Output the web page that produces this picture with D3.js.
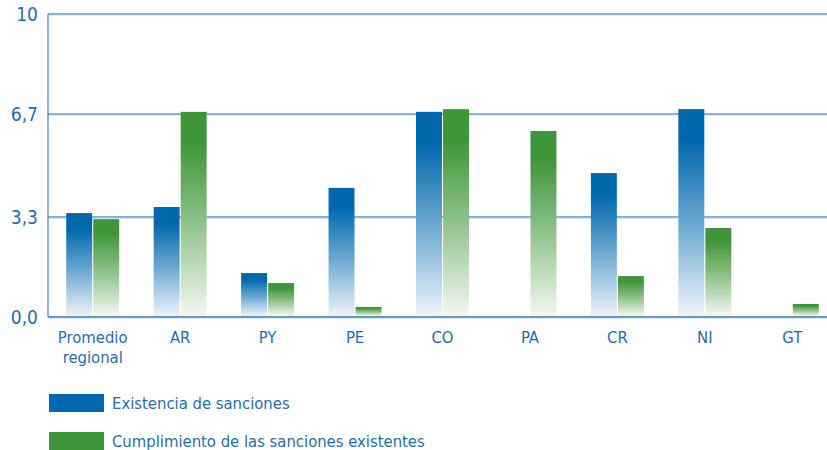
<!DOCTYPE html>
<html><head><meta charset="utf-8">
<script src="https://cdn.jsdelivr.net/npm/d3@7"></script>
<style>
body{margin:0;background:#fff;}
text{font-family:"Liberation Sans Narrow","DejaVu Sans Condensed","Open Sans",sans-serif;fill:#1f6eab;}
</style></head><body>
<svg id="c" width="827" height="450"></svg>
<script>
const categories = ["Promedio regional","AR","PY","PE","CO","PA","CR","NI","GT"];
const existencia = [3.43, 3.63, 1.45, 4.26, 6.77, null, 4.75, 6.86, null];
const cumplimiento = [3.23, 6.77, 1.12, 0.33, 6.86, 6.14, 1.35, 2.94, 0.43];
const tickValues = [0, 3.3, 6.7, 10];
const tickLabels = ["0,0","3,3","6,7","10"];
const seriesNames = ["Existencia de sanciones","Cumplimiento de las sanciones existentes"];
const colors = ["#0068ad","#3f963a"];
const fades = ["#eef3fb","#f3f8f1"];

(function(){
const svg = d3.select("#c");
const pLeft = 48, pRight = 827, pTop = 14, pBottom = 317;
const x = d3.scaleBand().domain(categories).range([49, 836]);
const y = d3.scaleLinear().domain([0,10]).range([pBottom, pTop]);
const sub = d3.scaleBand().domain([0,1]).range([0, 53]).paddingInner(0.04);

const defs = svg.append("defs");
colors.forEach((c,i)=>{
  const g = defs.append("linearGradient").attr("id","g"+i).attr("x1",0).attr("y1",0).attr("x2",0).attr("y2",1);
  g.append("stop").attr("offset","0.15").attr("stop-color",c);
  g.append("stop").attr("offset","0.55").attr("stop-color",d3.interpolateRgb(c,fades[i])(0.45));
  g.append("stop").attr("offset","1").attr("stop-color",fades[i]);
});

const gridG = svg.append("g");
tickValues.forEach(v=>{
  gridG.append("line").attr("x1",pLeft).attr("x2",pRight).attr("y1",y(v)).attr("y2",y(v))
    .attr("stroke","#3f84bb").attr("stroke-width", v===0?2:1.4).attr("stroke-opacity",0.85);
  gridG.append("line").attr("x1",pLeft).attr("x2",pRight).attr("y1",y(v)+1.2).attr("y2",y(v)+1.2)
    .attr("stroke","#a9cbe6").attr("stroke-width",1).attr("stroke-opacity",0.6);
});
gridG.append("line").attr("x1",pLeft).attr("x2",pLeft).attr("y1",y(10)).attr("y2",y(0))
  .attr("stroke","#3f84bb").attr("stroke-width",1.4).attr("stroke-opacity",0.85);

svg.append("g").selectAll("text").data(tickValues).join("text")
  .attr("x",38).attr("y",d=>y(d)).attr("dy","0.35em").attr("text-anchor","end")
  .attr("font-size",19).text((d,i)=>tickLabels[i]);

const groupW = 53;
const series = [existencia, cumplimiento];
series.forEach((vals,si)=>{
  svg.append("g").selectAll("rect").data(categories.map((c,i)=>({c,v:vals[i]})).filter(d=>d.v!=null))
    .join("rect")
    .attr("x",d=>x(d.c)+x.bandwidth()/2-groupW/2+sub(si))
    .attr("width",sub.bandwidth())
    .attr("y",d=>y(d.v)).attr("height",d=>y(0)-y(d.v)-1)
    .attr("fill","url(#g"+si+")");
});

const xl = svg.append("g");
categories.forEach(c=>{
  const words = c.split(" ");
  const t = xl.append("text").attr("x",x(c)+x.bandwidth()/2).attr("y",343)
    .attr("text-anchor","middle").attr("font-size",16.5);
  words.forEach((w,i)=>t.append("tspan").attr("x",x(c)+x.bandwidth()/2).attr("dy",i?20:0).text(w));
});

seriesNames.forEach((n,i)=>{
  svg.append("rect").attr("x",49).attr("y",394+i*38).attr("width",55).attr("height",18).attr("fill",colors[i]);
  svg.append("text").attr("x",112).attr("y",403+i*38).attr("dy","0.35em").attr("font-size",16.5).text(n);
});
})();
</script></body></html>
